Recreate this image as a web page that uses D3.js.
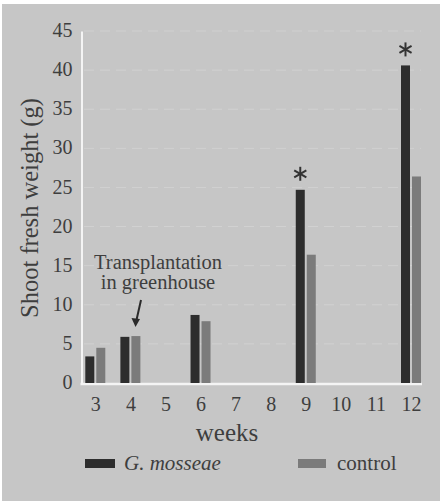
<!DOCTYPE html>
<html><head><meta charset="utf-8">
<script src="https://cdn.jsdelivr.net/npm/d3@7"></script>
</head>
<body style="margin:0">
<svg id="chart" width="440" height="501" font-family="Liberation Serif"></svg>
<script>
const weeks = [3,4,5,6,7,8,9,10,11,12];
const sampleWeeks = [3,4,6,9,12];
const mosseae = [3.4,5.9,8.7,24.7,40.6];
const control = [4.5,6.0,7.9,16.4,26.4];
const significant = [9,12];
const yTicks = [0,5,10,15,20,25,30,35,40,45];
const seriesNames = ["G. mosseae","control"];
const colors = ["#2d2d2d","#7b7b7b"];
const TXT = "#3e3e3e";

function serif(sel){ return sel.attr("font-family","Liberation Serif").style("font-family",'"Liberation Serif"'); }

const svg = d3.select("#chart");
svg.append("rect").attr("x",2).attr("y",4).attr("width",438).attr("height",497).attr("fill","#c6c6c6");

const x = d3.scaleLinear().domain([3,12]).range([95.3,411]);
const y = d3.scaleLinear().domain([0,45]).range([383,31]);

// faint dashed gridlines
svg.append("g").selectAll("line").data(yTicks.slice(1)).join("line")
  .attr("x1",84).attr("x2",421).attr("y1",d=>y(d)).attr("y2",d=>y(d))
  .attr("stroke","#e0e0e0").attr("stroke-width",1).attr("stroke-dasharray","10,6").attr("opacity",0.45);

// axes
const yAxis = d3.axisLeft(y).tickValues(yTicks).tickSize(0).tickPadding(9);
const gy = svg.append("g").attr("transform","translate(81.5,0)").call(yAxis);
serif(gy);
gy.select(".domain").attr("stroke","#f4f4f4").attr("stroke-width",2);
serif(gy.selectAll("text").attr("font-size",20).attr("fill",TXT).attr("dy","0.28em"));

const xAxis = d3.axisBottom(x).tickValues(weeks).tickSize(0).tickPadding(13).tickFormat(d3.format("d"));
const gx = svg.append("g").attr("transform","translate(0,384)").call(xAxis);
serif(gx);
gx.select(".domain").attr("d","M80.5,0H422").attr("stroke","#f4f4f4").attr("stroke-width",2.5);
serif(gx.selectAll("text").attr("font-size",20).attr("fill",TXT));

// bars
const bw = 9;
const barData = [];
sampleWeeks.forEach((w,i)=>{
  barData.push({w, v:mosseae[i], s:0});
  barData.push({w, v:control[i], s:1});
});
svg.append("g").selectAll("rect").data(barData).join("rect")
  .attr("x",d=> d.s===0 ? x(d.w)-10 : x(d.w)+1)
  .attr("width",bw)
  .attr("y",d=>y(d.v))
  .attr("height",d=>y(0)-y(d.v))
  .attr("fill",d=>colors[d.s]);

// significance asterisks (6-armed)
const ast = svg.append("g").attr("stroke","#333").attr("stroke-width",2);
significant.forEach(w=>{
  const cx = x(w)-5.5, cy = y(mosseae[sampleWeeks.indexOf(w)])-16, r=7;
  [90,30,150].forEach(a=>{
    const rad = a*Math.PI/180;
    ast.append("line").attr("x1",cx-r*Math.cos(rad)).attr("y1",cy-r*Math.sin(rad))
      .attr("x2",cx+r*Math.cos(rad)).attr("y2",cy+r*Math.sin(rad));
  });
});

// annotation
["Transplantation","in greenhouse"].forEach((t,i)=>{
  serif(svg.append("text").attr("x",158).attr("y",269+i*20).attr("text-anchor","middle")
    .attr("fill",TXT).attr("font-size",20.5)).text(t);
});
svg.append("line").attr("x1",141).attr("y1",300).attr("x2",136.5).attr("y2",320)
  .attr("stroke","#2a2a2a").attr("stroke-width",2);
svg.append("path").attr("d","M131.5,318 L135.5,327 L140,319 Z").attr("fill","#2a2a2a");

// axis titles
serif(svg.append("text").attr("x",227).attr("y",441).attr("text-anchor","middle")
  .attr("font-size",25).attr("fill",TXT)).text("weeks");
serif(svg.append("text").attr("transform","translate(38,208) rotate(-90)").attr("text-anchor","middle")
  .attr("font-size",24.5).attr("fill",TXT)).text("Shoot fresh weight (g)");

// legend
const legItems = [{x:85,w:30,tx:124,i:0,italic:true},{x:298,w:28,tx:337,i:1,italic:false}];
legItems.forEach(it=>{
  svg.append("rect").attr("x",it.x).attr("y",459).attr("width",it.w).attr("height",9).attr("fill",colors[it.i]);
  serif(svg.append("text").attr("x",it.tx).attr("y",470).attr("font-size",21).attr("fill",TXT)
    .attr("font-style",it.italic?"italic":"normal")).text(seriesNames[it.i]);
});
</script>
</body></html>
